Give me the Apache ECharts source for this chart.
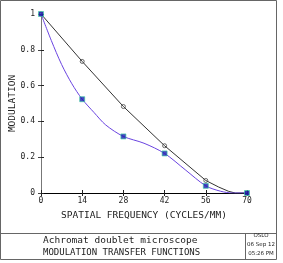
<!DOCTYPE html>
<html><head><meta charset="utf-8">
<script src="https://cdn.jsdelivr.net/npm/echarts@6/dist/echarts.min.js"></script>
<style>html,body{margin:0;padding:0;background:#fff}#c{width:283px;height:263px}</style>
</head><body><div id="c"></div>
<script>
// Data
const xTicks = [0, 14, 28, 42, 56, 70];
const diffFreq = [0, 14, 28, 42, 56, 60.4, 63.8, 66, 70];
const diffMTF  = [1, 0.735, 0.483, 0.264, 0.070, 0.033, 0.009, 0, 0];
const diffMarkerFreq = [0, 14, 28, 42, 56, 70];
const diffMarkerMTF  = [1, 0.735, 0.483, 0.264, 0.070, 0];
const polyFreq = [0, 3.5, 7, 10.5, 14, 18, 22, 28, 35, 42, 49, 56, 61, 65, 70];
const polyMTF  = [1, 0.852, 0.718, 0.61, 0.524, 0.45, 0.38, 0.316, 0.278, 0.221, 0.13, 0.040, 0.010, 0, 0];
const polyMarkerFreq = [0, 14, 28, 42, 56, 70];
const polyMarkerMTF  = [1, 0.524, 0.316, 0.221, 0.040, 0];
const xTitle = 'SPATIAL FREQUENCY (CYCLES/MM)';
const yTitle = 'MODULATION';
const title1 = 'Achromat doublet microscope';
const title2 = 'MODULATION TRANSFER FUNCTIONS';
const stamp = ['OSLO', '06 Sep 12', '05:26 PM'];

const zip = (a, b) => a.map((v, i) => [v, b[i]]);
const F = 'DejaVu Sans Mono';
const chart = echarts.init(document.getElementById('c'), null, {renderer: 'canvas'});
const axisLbl = {color: '#222', fontFamily: F, fontSize: 8};
chart.setOption({
  animation: false,
  grid: {left: 41, right: 36, top: 14, bottom: 70, containLabel: false, outerBoundsMode: 'none'},
  xAxis: [
    {type: 'value', min: 0, max: 70, interval: 14, position: 'bottom',
     axisLine: {lineStyle: {color: '#666', width: 1}},
     axisTick: {inside: true, length: 3, lineStyle: {color: '#222'}},
     axisLabel: Object.assign({margin: 4}, axisLbl),
     splitLine: {show: false},
     name: xTitle, nameLocation: 'middle', nameGap: 18, nameMoveOverlap: false,
     nameTextStyle: {fontFamily: F, fontSize: 9.5, color: '#222'}},
    {type: 'value', min: 0, max: 70, interval: 14, position: 'top',
     axisLine: {lineStyle: {color: '#000', width: 1}},
     axisTick: {inside: true, length: 3, lineStyle: {color: '#222'}},
     axisLabel: {show: false}, splitLine: {show: false}}
  ],
  yAxis: [
    {type: 'value', min: 0, max: 1, interval: 0.2, position: 'left',
     axisLine: {show: true, lineStyle: {color: '#666', width: 1}},
     axisTick: {show: true, inside: true, length: 3, lineStyle: {color: '#222'}},
     axisLabel: Object.assign({margin: 6}, axisLbl),
     splitLine: {show: false},
     name: yTitle, nameLocation: 'middle', nameGap: 23, nameRotate: 90, nameMoveOverlap: false,
     nameTextStyle: {fontFamily: F, fontSize: 9.5, color: '#222'}},
    {type: 'value', min: 0, max: 1, interval: 0.2, position: 'right',
     axisLine: {show: true, lineStyle: {color: '#777', width: 1}},
     axisTick: {show: true, inside: true, length: 3, lineStyle: {color: '#444'}},
     axisLabel: {show: false}, splitLine: {show: false}}
  ],
  series: [
    {type: 'line', data: zip(diffFreq, diffMTF), smooth: false, showSymbol: false,
     lineStyle: {color: '#333', width: 1}, z: 2},
    {type: 'scatter', data: zip(diffMarkerFreq, diffMarkerMTF), symbol: 'circle', symbolSize: 4,
     itemStyle: {color: 'rgba(255,255,255,0)', borderColor: '#444', borderWidth: 1}, z: 3},
    {type: 'line', data: zip(polyFreq, polyMTF), smooth: 0.3, showSymbol: false,
     lineStyle: {color: '#6a44e0', width: 1}, z: 4},
    {type: 'scatter', data: zip(polyMarkerFreq, polyMarkerMTF), symbol: 'rect', symbolSize: 5,
     itemStyle: {color: '#1a1ab0', borderColor: '#3ad0a0', borderWidth: 0.8}, z: 5}
  ],
  graphic: [
    {type: 'rect', shape: {x: 0.5, y: 0.5, width: 276, height: 259}, style: {fill: 'none', stroke: '#666', lineWidth: 1}},
    {type: 'line', shape: {x1: 0, y1: 233.5, x2: 277, y2: 233.5}, style: {stroke: '#666', lineWidth: 1}},
    {type: 'line', shape: {x1: 245.5, y1: 233, x2: 245.5, y2: 260}, style: {stroke: '#666', lineWidth: 1}},
    {type: 'text', left: 43, top: 236, style: {text: title1, font: '9.5px "DejaVu Sans Mono"', fill: '#222'}},
    {type: 'text', left: 43, top: 248, style: {text: title2, font: '9px "DejaVu Sans Mono"', fill: '#222'}},
    {type: 'text', x: 261, y: 236, style: {text: stamp[0], font: '5.5px "DejaVu Sans"', fill: '#222', align: 'center', verticalAlign: 'middle'}},
    {type: 'text', x: 261, y: 245, style: {text: stamp[1], font: '5.5px "DejaVu Sans"', fill: '#222', align: 'center', verticalAlign: 'middle'}},
    {type: 'text', x: 261, y: 254, style: {text: stamp[2], font: '5.5px "DejaVu Sans"', fill: '#222', align: 'center', verticalAlign: 'middle'}}
  ]
});
</script></body></html>
